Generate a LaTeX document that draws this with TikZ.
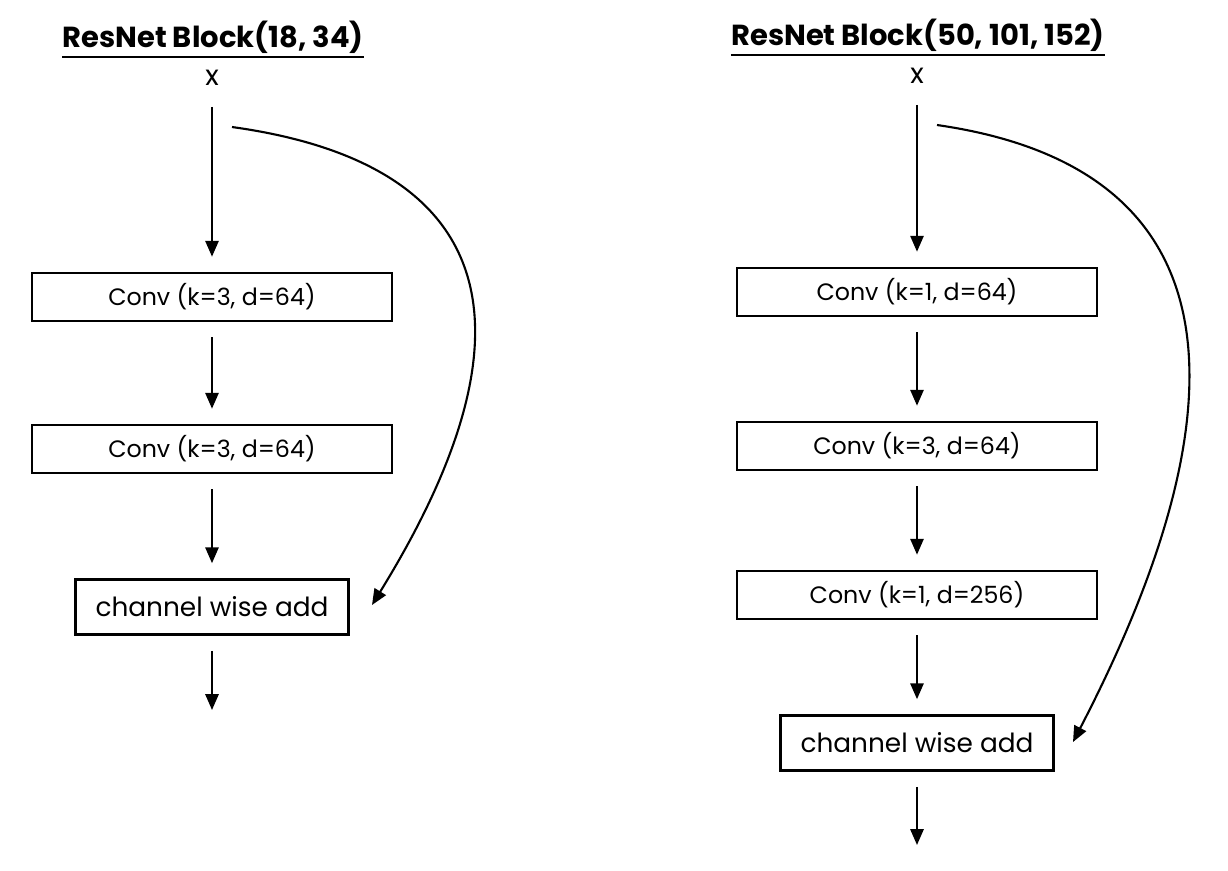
\documentclass[tikz,border=0pt]{standalone}
\usepackage{fontspec}
\setmainfont{Poppins}
\usetikzlibrary{arrows.meta}

\begin{document}
\begin{tikzpicture}[
                x=0.02cm, y=-0.02cm,
                box/.style={
                    draw=black,
                    line width=1.5pt,
                    rectangle,
                    minimum width=7.2cm,
                    minimum height=0.96cm,
                    align=center,
                    font=\fontsize{13.5}{16}\selectfont
                },
                addbox/.style={
                    box,
                    minimum width=5.46cm,
                    minimum height=1.1cm,
                    font=\fontsize{15}{18}\selectfont
                },
                title/.style={
                    inner xsep=0pt,
                    inner ysep=2pt,
                    font=\fontsize{16.5}{20}\selectfont\bfseries
                },
                input/.style={
                    font=\fontsize{16}{19}\selectfont
                },
                arrow/.style={
                    -{Triangle[length=9pt,width=7.5pt]},
                    line width=1.2pt,
                    shorten <=0.3cm,
                    shorten >=0.3cm
                },
                skip/.style={
                    -{Triangle[length=9pt,width=7.5pt]},
                    line width=1.2pt
                }
            ]
                \useasboundingbox (0,0) rectangle (1228,870);

                \node[title] (title1) at (213,37) {ResNet Block(18, 34)};
                \draw[line width=1.2pt] (title1.south west) -- (title1.south east);
                \node[input] (x1) at (212,78) {x};
                \node[box] (conv11) at (212,297) {Conv (k=3, d=64)};
                \node[box] (conv12) at (212,449) {Conv (k=3, d=64)};
                \node[addbox] (add1) at (212,607) {channel wise add};
                \coordinate (out1) at (212,725);
                \coordinate (skip1s) at (232,127);
                \coordinate (skip1e) at (372,605);

                \draw[arrow] (x1) -- (conv11);
                \draw[arrow] (conv11) -- (conv12);
                \draw[arrow] (conv12) -- (add1);
                \draw[arrow] (add1) -- (out1);
                \draw[skip] (skip1s) .. controls (470,160) and (560,300) .. (skip1e);

                \node[title] (title2) at (918,35) {ResNet Block(50, 101, 152)};
                \draw[line width=1.2pt] (title2.south west) -- (title2.south east);
                \node[input] (x2) at (917,76) {x};
                \node[box] (conv21) at (917,292) {Conv (k=1, d=64)};
                \node[box] (conv22) at (917,446) {Conv (k=3, d=64)};
                \node[box] (conv23) at (917,595) {Conv (k=1, d=256)};
                \node[addbox] (add2) at (917,743) {channel wise add};
                \coordinate (out2) at (917,860);
                \coordinate (skip2s) at (937,125);
                \coordinate (skip2e) at (1073,742);

                \draw[arrow] (x2) -- (conv21);
                \draw[arrow] (conv21) -- (conv22);
                \draw[arrow] (conv22) -- (conv23);
                \draw[arrow] (conv23) -- (add2);
                \draw[arrow] (add2) -- (out2);
                \draw[skip] (skip2s) .. controls (1250,170) and (1240,420) .. (skip2e);
        \end{tikzpicture}
\end{document}
